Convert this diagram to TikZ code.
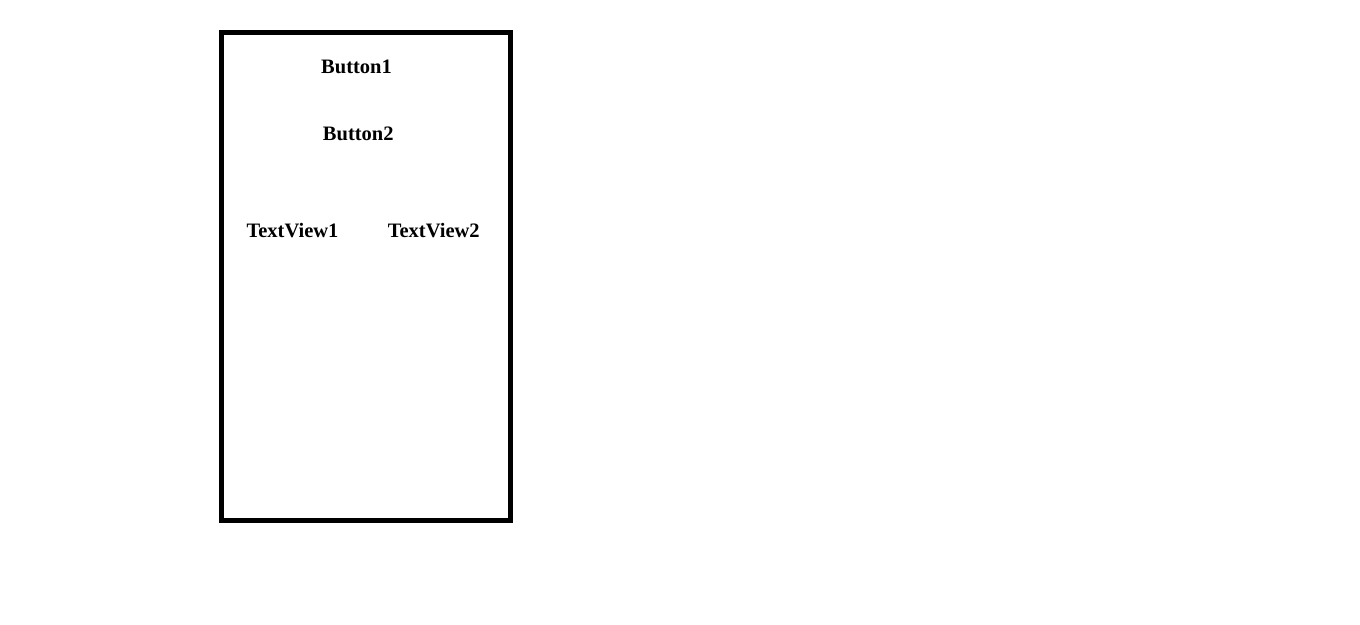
\documentclass[tikz,border=0pt]{standalone}
\usepackage{fontspec}
\setmainfont{Liberation Serif}
\begin{document}
\begin{tikzpicture}[x=1pt,y=-1pt,
  lbl/.style={font=\fontsize{20.5}{24}\selectfont\bfseries, inner sep=0pt, anchor=base},
  frame/.style={draw=black, line width=5pt}]
\useasboundingbox (0,0) rectangle (1360,624);
\draw[frame] (221.5,32.5) rectangle (510.5,520.5);
\node[lbl] (b1) at (356.5,73) {Button1};
\node[lbl] (b2) at (358.3,140) {Button2};
\node[lbl] (t1) at (292.5,237) {TextView1};
\node[lbl] (t2) at (433.7,237) {TextView2};
\end{tikzpicture}
\end{document}
